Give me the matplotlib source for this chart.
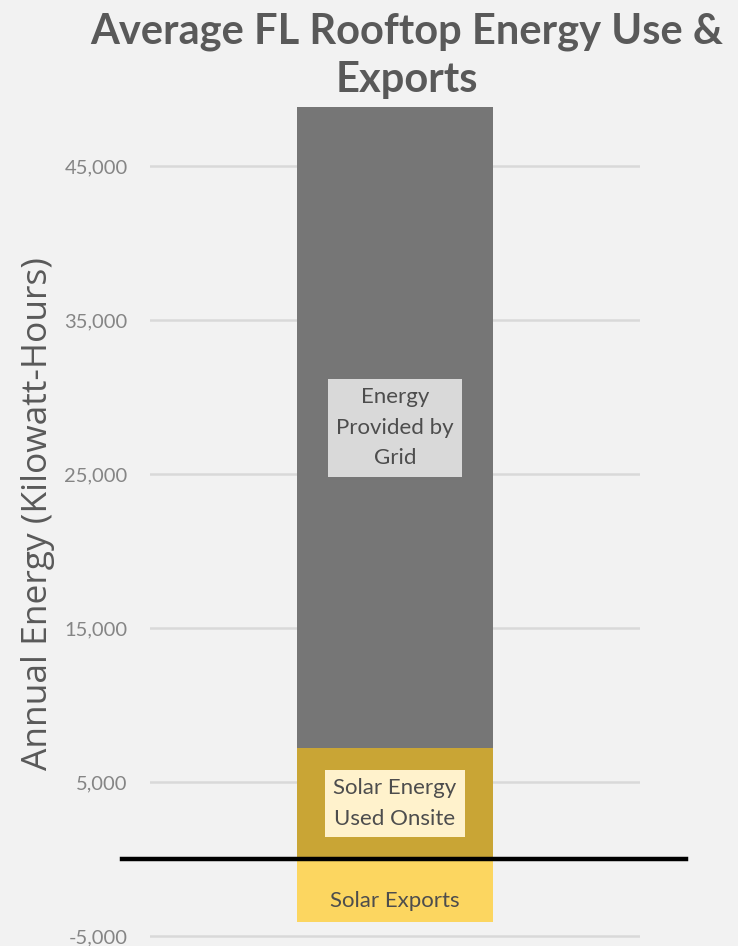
import matplotlib.pyplot as plt

# annual kWh for an average FL rooftop solar home
segments = ["Solar Energy\nUsed Onsite", "Energy\nProvided by\nGrid"]
segment_values = [7200, 41600]
exports_label = "Solar Exports"
exports_value = -4100

yticks = [-5000, 5000, 15000, 25000, 35000, 45000]

plt.rcParams['font.family'] = ['Lato', 'DejaVu Sans']

fig = plt.figure(figsize=(7.38, 9.46), dpi=100, facecolor='#f2f2f2')
ax = fig.add_axes([0.203, 0.0025, 0.664, 0.9035], facecolor='#f2f2f2')

bar_colors = ['#c9a535', '#767676']
box_colors = ['#fff2cc', '#d9d9d9']

bottom = 0
for name, val, col, bcol in zip(segments, segment_values, bar_colors, box_colors):
    ax.bar(0, val, width=1.0, bottom=bottom, color=col, zorder=2)
    ax.text(0, bottom + val / 2, name, ha='center', va='center', fontsize=16,
            color='#4d4d4d', linespacing=1.65, zorder=4,
            bbox=dict(boxstyle='square,pad=0.38', fc=bcol, ec='none'))
    bottom += val

ax.bar(0, exports_value, width=1.0, color='#fcd660', zorder=2)
ax.text(0, exports_value / 2, exports_label, ha='center', va='top',
        fontsize=16, color='#4d4d4d', zorder=4,
        transform=ax.transData)

# thick zero line running past the plot area
ax.plot([-0.057, 1.094], [0, 0], transform=ax.get_yaxis_transform(),
        color='black', lw=3.2, clip_on=False, zorder=5)

ax.set_xlim(-1.25, 1.25)
ax.set_ylim(-5500, 50000)
ax.set_yticks(yticks)
ax.set_yticklabels([f"{t:,}" for t in yticks])
ax.set_xticks([])
ax.tick_params(axis='y', length=0, pad=16, labelsize=14.5, labelcolor='#858585')
ax.yaxis.grid(True, color='#d9d9d9', lw=1.8, zorder=0)
ax.set_axisbelow(True)
for s in ax.spines.values():
    s.set_visible(False)

ax.set_ylabel("Annual Energy (Kilowatt-Hours)", fontsize=25.5, color='#595959',
              family=['Open Sans', 'DejaVu Sans'])
ax.yaxis.set_label_coords(-0.194, 0.503)

fig.text(0.551, 0.987, "Average FL Rooftop Energy Use &\nExports", ha='center',
         va='top', fontsize=30, fontweight='bold', color='#595959',
         linespacing=1.33)

fig.savefig('out.png', dpi=100, facecolor=fig.get_facecolor())
